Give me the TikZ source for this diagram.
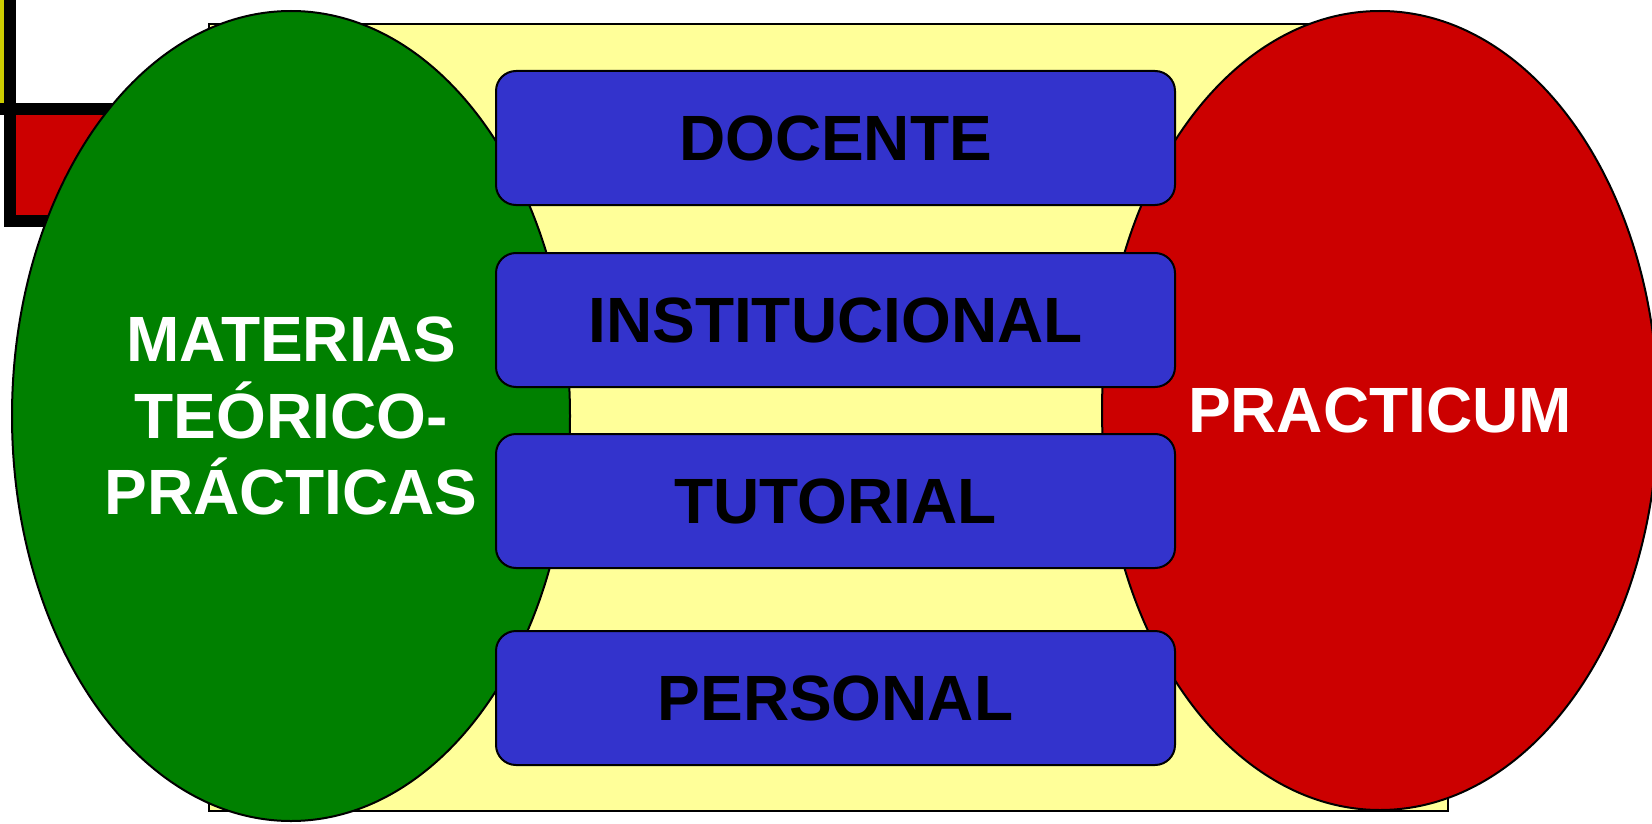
\documentclass[tikz,border=0pt]{standalone}
\usepackage{fontspec}
\setmainfont{Liberation Sans}
\usetikzlibrary{shapes.geometric}
\definecolor{bgyellow}{RGB}{255,255,153}
\definecolor{oliveyel}{RGB}{204,204,0}
\definecolor{mgreen}{RGB}{0,128,0}
\definecolor{mred}{RGB}{204,0,0}
\definecolor{mblue}{RGB}{51,51,204}
\begin{document}
\begin{tikzpicture}[x=1pt,y=-1pt,
  blob/.style={ellipse, draw=black, line width=2pt, inner sep=0pt, text=white,
    font=\fontsize{64}{76.7}\selectfont\bfseries, align=center},
  band/.style={rectangle, rounded corners=20pt, draw=black, line width=2pt, fill=mblue,
    minimum width=679pt, minimum height=134pt, inner sep=0pt, text=black,
    font=\fontsize{64}{76.7}\selectfont\bfseries},
  deco/.style={draw=black, line width=12pt}]
\useasboundingbox (0,0) rectangle (1652,824);
\clip (0,0) rectangle (1652,824);
\draw[deco, fill=oliveyel] (-40,-40) rectangle (10,109);
\draw[deco, fill=mred] (10,109) rectangle (200,221);
\draw[fill=bgyellow, draw=black, line width=2pt] (209,24) rectangle (1448,811);
\node[blob, fill=mgreen, minimum width=558pt, minimum height=810pt] (teo) at (291,416) {MATERIAS\\TEÓRICO-\\PRÁCTICAS};
\node[blob, fill=mred, minimum width=556pt, minimum height=799pt] (prac) at (1380,410.5) {PRACTICUM};
\node[band] (doc) at (835.5,138) {DOCENTE};
\node[band] (inst) at (835.5,320) {INSTITUCIONAL};
\node[band] (tut) at (835.5,501) {TUTORIAL};
\node[band] (pers) at (835.5,698) {PERSONAL};
\end{tikzpicture}
\end{document}
